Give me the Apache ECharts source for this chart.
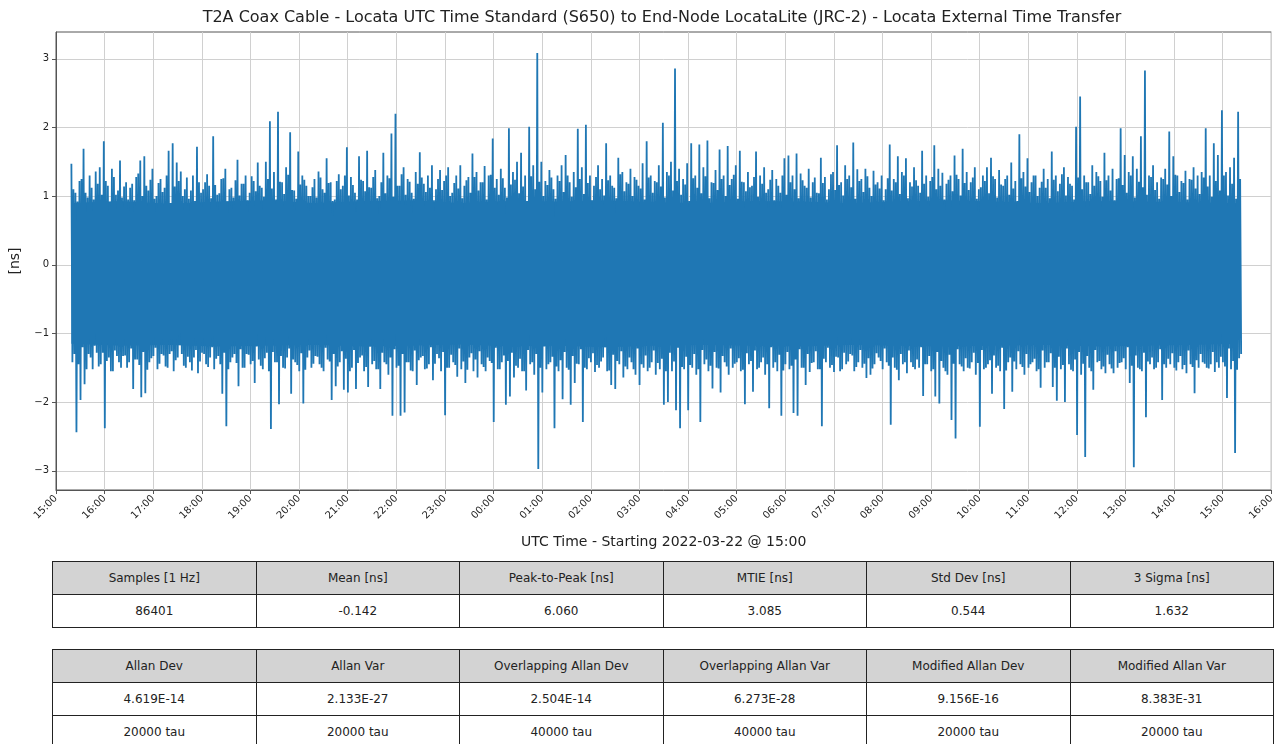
<!DOCTYPE html>
<html>
<head>
<meta charset="utf-8">
<script src="https://cdn.jsdelivr.net/npm/echarts/dist/echarts.min.js"></script>
<style>
  html, body { margin: 0; padding: 0; background: #fff; }
  #chart { position: absolute; left: 0; top: 0; width: 1277px; height: 744px; }
  table.stats { position: absolute; left: 52px; width: 1222px; border-collapse: collapse; table-layout: fixed;
    font-family: 'DejaVu Sans', sans-serif; font-size: 12px; color: #222; z-index: 5; background: #fff; }
  table.stats td { border: 1px solid #222; text-align: center; padding: 0; height: 32px; line-height: 32px; white-space: nowrap; }
  table.stats tr.head td { background: #d3d3d3; }
</style>
</head>
<body>
<div id="chart"></div>
<table class="stats" id="t1" style="top:561px"></table>
<table class="stats" id="t2" style="top:649px"></table>
<script>
// ---------------- data ----------------
const titleText = 'T2A Coax Cable - Locata UTC Time Standard (S650) to End-Node LocataLite (JRC-2) - Locata External Time Transfer';
const xAxisName = 'UTC Time - Starting 2022-03-22 @ 15:00';
const yAxisName = '[ns]';

const xTickLabels = ['15:00','16:00','17:00','18:00','19:00','20:00','21:00','22:00','23:00','00:00','01:00','02:00','03:00',
  '04:00','05:00','06:00','07:00','08:00','09:00','10:00','11:00','12:00','13:00','14:00','15:00','16:00'];
const yTickValues = [-3, -2, -1, 0, 1, 2, 3];

// Largest upper / lower excursions of the offset trace [ns] in each 5-minute slot
const upperEnvelope = [
  1.47, 1.05, 1.22, 1.69, 0.98, 1.12, 1.36, 1.42, 1.8, 1.15, 1.4, 1.02, 1.52, 1.14, 0.95, 1.18, 1.28, 1.52, 1.58, 1.08,
  1.4, 1.0, 1.25, 1.12, 1.66, 1.77, 1.49, 1.36, 1.1, 0.96, 1.3, 1.72, 1.05, 1.2, 1.15, 1.87, 1.02, 1.25, 1.4, 1.1,
  0.98, 1.53, 1.18, 1.3, 1.05, 1.22, 1.49, 1.12, 1.5, 2.09, 1.35, 2.23, 1.2, 1.42, 1.93, 1.08, 1.65, 1.3, 1.15, 1.0,
  1.25, 1.36, 1.1, 1.55, 1.2, 0.95, 1.32, 1.15, 1.71, 1.28, 1.05, 1.58, 1.22, 1.66, 1.12, 1.38, 1.0, 1.63, 1.3, 1.91,
  2.2, 1.15, 1.42, 1.25, 1.05, 1.35, 1.64, 1.18, 1.3, 1.45, 1.1, 1.38, 1.22, 1.42, 1.05, 1.3, 1.45, 1.15, 1.28, 1.62,
  1.35, 1.2, 1.44, 1.3, 1.84, 1.25, 1.4, 1.12, 1.99, 1.35, 1.5, 1.63, 1.3, 2.01, 1.45, 3.085, 1.5, 1.22, 1.38, 1.1,
  1.3, 1.45, 1.6, 1.2, 1.35, 1.98, 1.42, 2.04, 1.3, 1.15, 1.45, 1.25, 1.77, 1.3, 1.12, 1.56, 1.35, 1.2, 1.4, 1.28,
  1.15, 1.48, 1.8, 1.3, 1.22, 1.45, 2.07, 1.35, 1.5, 2.86, 1.4, 1.25, 1.48, 1.77, 1.3, 1.75, 1.42, 1.81, 1.2, 1.38,
  1.68, 1.3, 1.73, 1.25, 1.45, 1.66, 1.2, 1.35, 1.15, 1.65, 1.3, 1.42, 1.1, 1.38, 1.25, 1.05, 1.55, 1.59, 1.3, 1.62,
  1.33, 1.15, 1.4, 1.2, 1.05, 1.56, 1.28, 1.1, 1.35, 1.74, 1.2, 1.45, 1.3, 1.78, 1.39, 1.25, 1.4, 1.12, 1.37, 1.2,
  1.3, 1.1, 1.75, 1.25, 1.58, 1.35, 1.55, 1.2, 1.42, 1.15, 1.66, 1.3, 1.22, 1.74, 1.4, 1.34, 1.18, 1.3, 1.59, 1.25,
  1.69, 1.35, 1.2, 1.42, 1.1, 1.3, 1.42, 1.56, 1.25, 1.38, 1.15, 1.3, 1.49, 1.22, 1.9, 1.35, 1.55, 1.2, 1.3, 1.12,
  1.4, 1.25, 1.65, 1.3, 1.18, 1.42, 1.28, 1.15, 2.01, 2.45, 1.3, 1.2, 1.45, 1.35, 1.22, 1.63, 1.3, 1.4, 1.25, 1.99,
  1.6, 1.35, 1.58, 1.4, 1.87, 2.83, 1.3, 1.45, 1.2, 1.27, 1.4, 1.94, 1.58, 1.3, 1.22, 1.37, 1.25, 1.42, 1.3, 1.35,
  1.99, 1.3, 1.77, 1.6, 2.25, 1.35, 1.42, 1.56, 2.23
];
const lowerEnvelope = [
  -1.42, -2.44, -1.97, -1.74, -1.3, -1.52, -1.28, -1.45, -2.38, -1.35, -1.55, -1.33, -1.5, -1.32, -1.42, -1.81, -1.38, -1.93, -1.87, -1.42,
  -1.33, -1.52, -1.3, -1.48, -1.3, -1.55, -1.35, -1.3, -1.5, -1.42, -1.35, -1.58, -1.28, -1.45, -1.35, -1.52, -1.33, -1.88, -2.35, -1.42,
  -1.3, -1.77, -1.5, -1.3, -1.45, -1.72, -1.38, -1.52, -1.28, -2.39, -1.42, -2.03, -1.5, -1.35, -1.88, -1.42, -1.55, -2.02, -1.35, -1.5,
  -1.33, -1.45, -1.55, -1.38, -1.97, -1.77, -1.42, -1.82, -1.86, -1.5, -1.81, -1.35, -1.55, -1.78, -1.45, -1.52, -1.81, -1.42, -1.6, -2.2,
  -1.5, -2.2, -2.15, -1.42, -1.55, -1.75, -1.35, -1.52, -1.45, -1.68, -1.3, -1.55, -2.19, -1.5, -1.42, -1.63, -1.52, -1.72, -1.35, -1.55,
  -1.64, -1.45, -1.55, -1.4, -2.29, -1.52, -1.42, -2.04, -1.92, -1.64, -1.5, -1.55, -1.83, -1.45, -1.6, -2.975, -1.86, -1.52, -1.42, -2.38,
  -1.55, -1.96, -1.5, -2.04, -1.72, -1.45, -2.29, -1.52, -1.42, -1.56, -1.5, -1.35, -1.55, -1.75, -1.81, -1.45, -1.64, -1.52, -1.42, -1.6,
  -1.75, -1.5, -1.55, -1.42, -1.6, -1.52, -2.04, -2.0, -1.55, -2.12, -2.38, -1.52, -2.12, -1.5, -1.6, -2.29, -1.45, -1.55, -1.8, -1.5,
  -1.86, -1.42, -1.6, -1.5, -1.42, -1.55, -2.03, -1.45, -1.85, -1.52, -1.42, -1.6, -2.09, -1.5, -1.55, -2.2, -1.45, -1.52, -2.16, -2.2,
  -1.5, -1.75, -1.56, -1.42, -1.52, -2.35, -1.42, -1.5, -1.56, -1.35, -1.52, -1.45, -1.3, -1.55, -1.42, -1.5, -1.65, -1.6, -1.45, -1.35,
  -1.52, -1.42, -2.33, -1.5, -1.68, -1.45, -1.58, -1.42, -1.52, -1.5, -1.91, -1.45, -1.55, -1.92, -2.02, -1.5, -1.6, -2.26, -2.53, -1.45,
  -1.55, -1.5, -1.42, -1.6, -2.36, -1.52, -1.45, -1.88, -1.5, -1.55, -2.1, -1.42, -1.85, -1.52, -1.45, -1.6, -1.5, -1.42, -1.55, -1.79,
  -1.5, -1.42, -1.78, -1.98, -1.52, -2.0, -1.45, -1.55, -2.48, -1.6, -2.8, -1.5, -1.82, -1.42, -1.52, -1.58, -1.45, -1.58, -1.5, -1.42,
  -1.52, -1.72, -2.95, -1.5, -1.55, -2.22, -1.45, -1.52, -1.42, -1.97, -1.5, -1.45, -1.5, -1.42, -1.52, -1.58, -1.45, -1.87, -1.5, -1.42,
  -1.5, -1.45, -1.56, -1.5, -1.42, -1.94, -1.52, -2.74, -1.36
];
const upperInner = [
  1.1, 0.92, 1.25, 1.05, 1.3, 0.95, 1.18, 1.02, 1.22, 0.9, 1.28, 1.08, 0.98, 1.2, 1.12, 0.94, 1.33, 1.0, 1.15, 1.24,
  0.96, 1.19, 1.06, 1.3, 0.9, 1.14, 1.22, 1.0, 1.27, 1.08, 0.93, 1.2, 1.1, 1.32, 0.97, 1.16, 1.04, 1.26, 0.92, 1.12,
  1.23, 1.01, 1.18, 0.94, 1.29, 1.07, 1.15, 0.99, 1.25, 1.11, 0.95, 1.21, 1.03, 1.31, 1.09, 0.96, 1.17, 1.24, 1.0, 1.13,
  0.98, 1.27, 1.05, 1.19, 0.93, 1.22, 1.1, 1.3, 1.01, 1.16, 0.95, 1.24, 1.07, 1.13, 1.28, 0.97, 1.2, 1.04, 1.26, 0.99,
  1.15, 1.32, 1.02, 1.21, 0.96, 1.18, 1.27, 1.06, 1.12, 0.94, 1.25, 1.09, 1.3, 1.0, 1.19, 1.11, 0.97, 1.23, 1.05, 1.28,
  1.08, 1.2, 0.95, 1.31, 1.12, 1.02, 1.26, 0.98, 1.17, 1.24, 1.04, 1.14, 0.93, 1.29, 1.1, 1.21, 1.0, 1.16, 1.27, 0.96,
  1.22, 1.06, 1.3, 0.99, 1.13, 1.25, 1.03, 1.19, 0.94, 1.28, 1.1, 1.01, 1.23, 1.15, 0.97, 1.32, 1.07, 1.18, 1.0, 1.24,
  1.11, 0.95, 1.27, 1.05, 1.2, 1.14, 0.98, 1.3, 1.08, 1.22, 1.02, 1.17, 0.93, 1.26, 1.12, 1.04, 1.29, 0.97, 1.19, 1.09,
  1.25, 1.0, 1.16, 1.31, 0.96, 1.21, 1.07, 1.13, 1.28, 0.99, 1.18, 1.05, 1.24, 0.94, 1.15, 1.3, 1.02, 1.2, 1.1, 0.97,
  1.23, 1.12, 0.98, 1.27, 1.04, 1.19, 0.95, 1.32, 1.09, 1.16, 1.01, 1.25, 1.13, 0.96, 1.22, 1.06, 1.29, 1.0, 1.17, 1.11,
  0.94, 1.26, 1.08, 1.2, 1.03, 1.3, 0.97, 1.14, 1.23, 1.05, 1.18, 0.99, 1.28, 1.1, 1.15, 0.95, 1.24, 1.07, 1.31, 1.01,
  1.19, 1.09, 1.27, 0.96, 1.13, 1.22, 1.04, 1.29, 0.98, 1.17, 1.25, 1.02, 1.11, 0.93, 1.26, 1.14, 1.06, 1.3, 1.0, 1.21,
  1.12, 0.97, 1.24, 1.07, 1.32, 1.01, 1.18, 0.95, 1.27, 1.1, 1.2, 1.03, 1.15, 1.29, 0.99, 1.23, 1.08, 0.94, 1.26, 1.16,
  1.05, 1.3, 0.98, 1.21, 1.13, 1.02, 1.28, 1.09, 0.96, 1.25, 1.17, 1.0, 1.31, 1.06, 1.19, 0.95, 1.24, 1.11, 1.03, 1.27,
  1.14, 0.99, 1.22, 1.08, 1.3, 1.01, 1.18, 0.96, 1.25
];
const lowerInner = [
  -1.3, -1.45, -1.2, -1.52, -1.35, -1.18, -1.48, -1.28, -1.4, -1.55, -1.25, -1.42, -1.33, -1.5, -1.22, -1.38, -1.46, -1.27, -1.53, -1.36,
  -1.21, -1.44, -1.32, -1.5, -1.26, -1.39, -1.17, -1.47, -1.34, -1.54, -1.24, -1.41, -1.3, -1.49, -1.2, -1.37, -1.45, -1.28, -1.52, -1.35,
  -1.43, -1.23, -1.5, -1.31, -1.4, -1.19, -1.47, -1.36, -1.55, -1.27, -1.42, -1.33, -1.51, -1.22, -1.38, -1.46, -1.29, -1.53, -1.25, -1.44,
  -1.34, -1.5, -1.21, -1.41, -1.3, -1.48, -1.26, -1.37, -1.55, -1.24, -1.43, -1.32, -1.49, -1.19, -1.4, -1.52, -1.28, -1.45, -1.35, -1.23,
  -1.47, -1.3, -1.42, -1.54, -1.25, -1.39, -1.33, -1.51, -1.2, -1.44, -1.36, -1.27, -1.5, -1.31, -1.46, -1.22, -1.41, -1.53, -1.29, -1.38,
  -1.26, -1.49, -1.35, -1.43, -1.21, -1.52, -1.32, -1.4, -1.28, -1.47, -1.37, -1.55, -1.24, -1.42, -1.3, -1.5, -1.19, -1.45, -1.34, -1.48,
  -1.39, -1.27, -1.53, -1.33, -1.44, -1.23, -1.5, -1.36, -1.29, -1.46, -1.41, -1.2, -1.54, -1.31, -1.4, -1.26, -1.48, -1.35, -1.52, -1.22,
  -1.45, -1.32, -1.5, -1.25, -1.43, -1.37, -1.55, -1.28, -1.41, -1.21, -1.49, -1.34, -1.46, -1.3, -1.52, -1.24, -1.38, -1.47, -1.27, -1.51,
  -1.33, -1.48, -1.22, -1.44, -1.36, -1.53, -1.29, -1.4, -1.25, -1.5, -1.35, -1.45, -1.2, -1.42, -1.31, -1.54, -1.27, -1.47, -1.38, -1.23,
  -1.5, -1.3, -1.43, -1.26, -1.52, -1.37, -1.21, -1.46, -1.34, -1.55, -1.28, -1.41, -1.32, -1.49, -1.24, -1.44, -1.36, -1.51, -1.29, -1.4,
  -1.22, -1.47, -1.35, -1.53, -1.3, -1.42, -1.25, -1.49, -1.38, -1.2, -1.45, -1.33, -1.52, -1.27, -1.4, -1.55, -1.31, -1.44, -1.23, -1.48,
  -1.36, -1.51, -1.28, -1.43, -1.24, -1.5, -1.39, -1.32, -1.47, -1.21, -1.54, -1.35, -1.41, -1.26, -1.49, -1.3, -1.45, -1.37, -1.52, -1.25,
  -1.42, -1.29, -1.5, -1.34, -1.46, -1.22, -1.53, -1.38, -1.27, -1.44, -1.33, -1.55, -1.24, -1.4, -1.48, -1.31, -1.51, -1.26, -1.43, -1.36,
  -1.2, -1.47, -1.32, -1.52, -1.28, -1.41, -1.35, -1.5, -1.23, -1.45, -1.37, -1.29, -1.54, -1.33, -1.46, -1.25, -1.49, -1.39, -1.3, -1.44,
  -1.51, -1.27, -1.42, -1.34, -1.48, -1.22, -1.4, -1.53, -1.3
];
// Edges of the solid (densely overplotted) core of the trace [ns], hourly from trace start
const coreUpperEdge = [0.9, 0.93, 0.89, 0.92, 0.94, 0.9, 0.93, 0.94, 0.9, 0.93, 0.92, 0.94, 0.91, 0.9, 0.93, 0.92, 0.9, 0.92, 0.94, 0.92, 0.9, 0.93, 0.92, 0.91, 0.9];
const coreLowerEdge = [-1.15, -1.18, -1.17, -1.19, -1.18, -1.17, -1.19, -1.18, -1.16, -1.19, -1.18, -1.2, -1.18, -1.17, -1.18, -1.19, -1.17, -1.18, -1.19, -1.18, -1.17, -1.19, -1.18, -1.17, -1.15];

const stats1Headers = ['Samples [1 Hz]', 'Mean [ns]', 'Peak-to-Peak [ns]', 'MTIE [ns]', 'Std Dev [ns]', '3 Sigma [ns]'];
const stats1Values  = ['86401', '-0.142', '6.060', '3.085', '0.544', '1.632'];
const stats2Headers = ['Allan Dev', 'Allan Var', 'Overlapping Allan Dev', 'Overlapping Allan Var', 'Modified Allan Dev', 'Modified Allan Var'];
const stats2Values  = ['4.619E-14', '2.133E-27', '2.504E-14', '6.273E-28', '9.156E-16', '8.383E-31'];
const stats2Tau     = ['20000 tau', '20000 tau', '40000 tau', '40000 tau', '20000 tau', '20000 tau'];

// ---------------- time base ----------------
const HOUR = 3600000;
const axisStart = Date.UTC(2022, 2, 22, 15, 0);
const axisEnd = Date.UTC(2022, 2, 23, 16, 0);
const traceStart = Date.UTC(2022, 2, 22, 15, 19);
const slotMs = 5 * 60000;

const seriesData = [];
for (let i = 0; i < upperEnvelope.length; i++) {
  const t = traceStart + i * slotMs;
  seriesData.push([t, upperEnvelope[i]]);
  seriesData.push([t + slotMs * 0.25, lowerEnvelope[i]]);
  seriesData.push([t + slotMs * 0.5, upperInner[i]]);
  seriesData.push([t + slotMs * 0.75, lowerInner[i]]);
}
const coreUpperData = coreUpperEdge.map((v, i) => [traceStart + i * HOUR, v]);
const coreLowerData = coreLowerEdge.map((v, i) => [traceStart + i * HOUR, v]);

// ---------------- tables ----------------
function fillTable(id, rows) {
  const t = document.getElementById(id);
  rows.forEach((r, ri) => {
    const tr = document.createElement('tr');
    if (ri === 0) tr.className = 'head';
    r.forEach(c => { const td = document.createElement('td'); td.textContent = c; tr.appendChild(td); });
    t.appendChild(tr);
  });
}
fillTable('t1', [stats1Headers, stats1Values]);
fillTable('t2', [stats2Headers, stats2Values, stats2Tau]);

// ---------------- chart ----------------
const FONT = "'DejaVu Sans', sans-serif";
const BLUE = '#1f77b4';
const chart = echarts.init(document.getElementById('chart'), null, { renderer: 'canvas' });
chart.setOption({
  animation: false,
  backgroundColor: '#fff',
  graphic: [{
    type: 'text', x: 662, y: 18,
    style: { text: titleText, fill: '#222', font: "16px 'DejaVu Sans', sans-serif", textAlign: 'center', textVerticalAlign: 'middle' }
  }],
  grid: { left: 52, right: 5, top: 32, bottom: 254, show: true, borderColor: '#555', borderWidth: 1, backgroundColor: 'transparent' },
  xAxis: {
    type: 'value', min: axisStart, max: axisEnd, interval: HOUR,
    name: xAxisName, nameLocation: 'middle', nameGap: 45,
    nameTextStyle: { fontFamily: FONT, fontSize: 14, color: '#222' },
    axisLine: { show: true, onZero: false, lineStyle: { color: '#555', width: 1 } },
    axisTick: { show: true, length: 4, lineStyle: { color: '#555' } },
    splitLine: { show: true, lineStyle: { color: '#d0d0d0', width: 1 } },
    axisLabel: {
      rotate: 45, interval: 0, margin: 7, hideOverlap: false, fontFamily: FONT, fontSize: 10, color: '#222',
      showMinLabel: true, showMaxLabel: true,
      formatter: v => xTickLabels[Math.round((v - axisStart) / HOUR)]
    }
  },
  yAxis: {
    type: 'value', min: -3.28, max: 3.39,
    name: yAxisName, nameLocation: 'middle', nameGap: 34, nameRotate: 90,
    nameTextStyle: { fontFamily: FONT, fontSize: 14, color: '#222' },
    axisLine: { show: true, onZero: false, lineStyle: { color: '#555', width: 1 } },
    axisTick: { show: true, length: 4, lineStyle: { color: '#555' }, customValues: yTickValues },
    splitLine: { show: true, lineStyle: { color: '#d0d0d0', width: 1 } },
    axisLabel: {
      margin: 7, fontFamily: FONT, fontSize: 10, color: '#222', customValues: yTickValues,
      formatter: v => (v < 0 ? '\u2212' + Math.abs(v) : String(v))
    }
  },
  series: [
    {
      type: 'line', data: coreUpperData, symbol: 'none', silent: true, z: 2,
      lineStyle: { width: 0, color: BLUE }, areaStyle: { color: BLUE, opacity: 1 }
    },
    {
      type: 'line', data: coreLowerData, symbol: 'none', silent: true, z: 2,
      lineStyle: { width: 0, color: BLUE }, areaStyle: { color: BLUE, opacity: 1 }
    },
    {
      type: 'line', data: seriesData, symbol: 'none', showSymbol: false, silent: true, z: 3,
      lineStyle: { color: BLUE, width: 1.8, join: 'bevel' },
      itemStyle: { color: BLUE }
    }
  ]
});
</script>
</body>
</html>
